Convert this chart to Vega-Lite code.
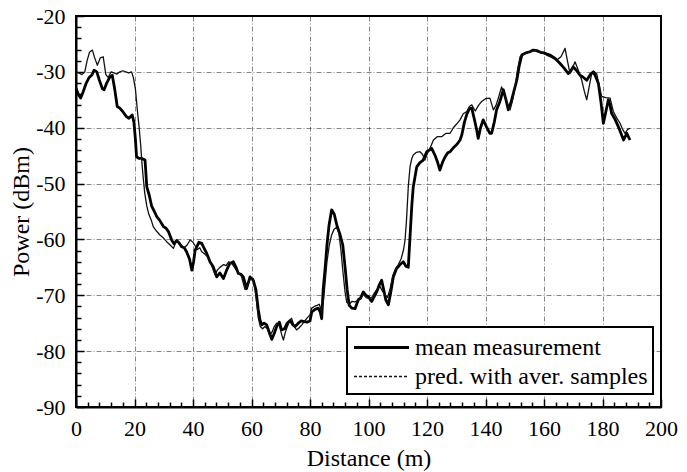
{
  "$schema": "https://vega.github.io/schema/vega-lite/v6.json",
  "width": 585,
  "height": 391,
  "autosize": "none",
  "padding": {"left": 76, "top": 16, "right": 26, "bottom": 65},
  "background": "white",
  "config": {
    "view": {"stroke": "black", "strokeWidth": 2},
    "font": "Liberation Serif",
    "axis": {
      "labelFont": "Liberation Serif",
      "labelFontSize": 22,
      "labelColor": "black",
      "labelOverlap": false,
      "labelFlush": false,
      "titleFont": "Liberation Serif",
      "titleFontSize": 24,
      "titleFontWeight": "normal",
      "titleColor": "black",
      "domainColor": "black",
      "domainWidth": 2,
      "tickColor": "black",
      "tickWidth": 1.5,
      "grid": true,
      "gridColor": "black",
      "gridWidth": 0.8,
      "gridDash": [5, 2, 1, 2]
    }
  },
  "data": {"values": [
    {"d":0,"p":-33,"s":"mean measurement"},
    {"d":0.8,"p":-34,"s":"mean measurement"},
    {"d":1.6,"p":-34.7,"s":"mean measurement"},
    {"d":2.5,"p":-33.5,"s":"mean measurement"},
    {"d":3.5,"p":-32,"s":"mean measurement"},
    {"d":4.5,"p":-31,"s":"mean measurement"},
    {"d":5.5,"p":-30.5,"s":"mean measurement"},
    {"d":6.2,"p":-29.7,"s":"mean measurement"},
    {"d":7.1,"p":-30,"s":"mean measurement"},
    {"d":8,"p":-31.5,"s":"mean measurement"},
    {"d":9,"p":-33,"s":"mean measurement"},
    {"d":9.6,"p":-33.2,"s":"mean measurement"},
    {"d":10.5,"p":-32,"s":"mean measurement"},
    {"d":11.5,"p":-31,"s":"mean measurement"},
    {"d":12.4,"p":-30.6,"s":"mean measurement"},
    {"d":13.2,"p":-33,"s":"mean measurement"},
    {"d":14.1,"p":-36.2,"s":"mean measurement"},
    {"d":15,"p":-36.5,"s":"mean measurement"},
    {"d":16.4,"p":-37.4,"s":"mean measurement"},
    {"d":17.2,"p":-38,"s":"mean measurement"},
    {"d":18.1,"p":-38.3,"s":"mean measurement"},
    {"d":19.2,"p":-37.7,"s":"mean measurement"},
    {"d":19.8,"p":-39,"s":"mean measurement"},
    {"d":20.3,"p":-42,"s":"mean measurement"},
    {"d":20.7,"p":-45.2,"s":"mean measurement"},
    {"d":21.5,"p":-45.5,"s":"mean measurement"},
    {"d":22.5,"p":-45.5,"s":"mean measurement"},
    {"d":23.6,"p":-45.8,"s":"mean measurement"},
    {"d":24.2,"p":-50.6,"s":"mean measurement"},
    {"d":25,"p":-52,"s":"mean measurement"},
    {"d":25.9,"p":-54.1,"s":"mean measurement"},
    {"d":26.8,"p":-55,"s":"mean measurement"},
    {"d":27.6,"p":-55.9,"s":"mean measurement"},
    {"d":28.5,"p":-56.5,"s":"mean measurement"},
    {"d":29.9,"p":-57.7,"s":"mean measurement"},
    {"d":30.8,"p":-58,"s":"mean measurement"},
    {"d":31.6,"p":-58.6,"s":"mean measurement"},
    {"d":32.7,"p":-60.1,"s":"mean measurement"},
    {"d":33.5,"p":-60.8,"s":"mean measurement"},
    {"d":34.4,"p":-60.2,"s":"mean measurement"},
    {"d":35.2,"p":-60.6,"s":"mean measurement"},
    {"d":36.1,"p":-61.3,"s":"mean measurement"},
    {"d":37,"p":-61.5,"s":"mean measurement"},
    {"d":37.8,"p":-62.2,"s":"mean measurement"},
    {"d":38.8,"p":-63.5,"s":"mean measurement"},
    {"d":39.6,"p":-65.5,"s":"mean measurement"},
    {"d":40.2,"p":-64,"s":"mean measurement"},
    {"d":40.7,"p":-62,"s":"mean measurement"},
    {"d":42,"p":-60.5,"s":"mean measurement"},
    {"d":43,"p":-60.7,"s":"mean measurement"},
    {"d":44,"p":-61.8,"s":"mean measurement"},
    {"d":44.7,"p":-62.5,"s":"mean measurement"},
    {"d":45.8,"p":-64,"s":"mean measurement"},
    {"d":46.9,"p":-64.9,"s":"mean measurement"},
    {"d":48.1,"p":-66.7,"s":"mean measurement"},
    {"d":49.2,"p":-66,"s":"mean measurement"},
    {"d":50.4,"p":-67,"s":"mean measurement"},
    {"d":51.5,"p":-65.5,"s":"mean measurement"},
    {"d":52.6,"p":-64.3,"s":"mean measurement"},
    {"d":53.8,"p":-64,"s":"mean measurement"},
    {"d":54.7,"p":-65,"s":"mean measurement"},
    {"d":55.5,"p":-66.1,"s":"mean measurement"},
    {"d":56.3,"p":-66.2,"s":"mean measurement"},
    {"d":57.2,"p":-66.7,"s":"mean measurement"},
    {"d":58.3,"p":-68.8,"s":"mean measurement"},
    {"d":59.5,"p":-66.7,"s":"mean measurement"},
    {"d":60.6,"p":-67.3,"s":"mean measurement"},
    {"d":61.5,"p":-69,"s":"mean measurement"},
    {"d":62.3,"p":-72.5,"s":"mean measurement"},
    {"d":62.9,"p":-74.4,"s":"mean measurement"},
    {"d":63.5,"p":-75.3,"s":"mean measurement"},
    {"d":64.3,"p":-75,"s":"mean measurement"},
    {"d":65.2,"p":-75.3,"s":"mean measurement"},
    {"d":66,"p":-76.5,"s":"mean measurement"},
    {"d":66.9,"p":-77.9,"s":"mean measurement"},
    {"d":67.8,"p":-76.8,"s":"mean measurement"},
    {"d":68.6,"p":-75.6,"s":"mean measurement"},
    {"d":69.5,"p":-74.8,"s":"mean measurement"},
    {"d":70.3,"p":-76.2,"s":"mean measurement"},
    {"d":71.3,"p":-76,"s":"mean measurement"},
    {"d":72.2,"p":-75,"s":"mean measurement"},
    {"d":73.2,"p":-74.5,"s":"mean measurement"},
    {"d":74.2,"p":-75.3,"s":"mean measurement"},
    {"d":74.9,"p":-75.6,"s":"mean measurement"},
    {"d":76,"p":-75,"s":"mean measurement"},
    {"d":77,"p":-74.6,"s":"mean measurement"},
    {"d":78,"p":-74.7,"s":"mean measurement"},
    {"d":79,"p":-74.8,"s":"mean measurement"},
    {"d":80,"p":-74.6,"s":"mean measurement"},
    {"d":80.6,"p":-73,"s":"mean measurement"},
    {"d":81.5,"p":-72.6,"s":"mean measurement"},
    {"d":82.8,"p":-72.3,"s":"mean measurement"},
    {"d":83.5,"p":-73,"s":"mean measurement"},
    {"d":84,"p":-74.2,"s":"mean measurement"},
    {"d":84.5,"p":-69,"s":"mean measurement"},
    {"d":85.2,"p":-65,"s":"mean measurement"},
    {"d":85.8,"p":-61,"s":"mean measurement"},
    {"d":86.5,"p":-57.5,"s":"mean measurement"},
    {"d":87.4,"p":-54.7,"s":"mean measurement"},
    {"d":88.3,"p":-55.5,"s":"mean measurement"},
    {"d":89.2,"p":-57.5,"s":"mean measurement"},
    {"d":90.2,"p":-59,"s":"mean measurement"},
    {"d":91.2,"p":-61,"s":"mean measurement"},
    {"d":92,"p":-65,"s":"mean measurement"},
    {"d":92.7,"p":-69,"s":"mean measurement"},
    {"d":93.4,"p":-71.8,"s":"mean measurement"},
    {"d":94.3,"p":-72.3,"s":"mean measurement"},
    {"d":95.4,"p":-72.4,"s":"mean measurement"},
    {"d":96.5,"p":-70.8,"s":"mean measurement"},
    {"d":97.3,"p":-70.5,"s":"mean measurement"},
    {"d":98.2,"p":-69.4,"s":"mean measurement"},
    {"d":99.1,"p":-70,"s":"mean measurement"},
    {"d":99.9,"p":-70.2,"s":"mean measurement"},
    {"d":101.1,"p":-71.1,"s":"mean measurement"},
    {"d":102,"p":-70.2,"s":"mean measurement"},
    {"d":102.8,"p":-69.4,"s":"mean measurement"},
    {"d":103.8,"p":-68,"s":"mean measurement"},
    {"d":104.5,"p":-67.3,"s":"mean measurement"},
    {"d":105.2,"p":-69,"s":"mean measurement"},
    {"d":105.9,"p":-70.8,"s":"mean measurement"},
    {"d":106.8,"p":-71.7,"s":"mean measurement"},
    {"d":107.6,"p":-69.5,"s":"mean measurement"},
    {"d":108.5,"p":-66.7,"s":"mean measurement"},
    {"d":109.6,"p":-65.2,"s":"mean measurement"},
    {"d":110.8,"p":-64.5,"s":"mean measurement"},
    {"d":111.9,"p":-64,"s":"mean measurement"},
    {"d":112.8,"p":-64.8,"s":"mean measurement"},
    {"d":113.6,"p":-65,"s":"mean measurement"},
    {"d":114.2,"p":-59.5,"s":"mean measurement"},
    {"d":114.8,"p":-54,"s":"mean measurement"},
    {"d":115.3,"p":-50.6,"s":"mean measurement"},
    {"d":116.5,"p":-47,"s":"mean measurement"},
    {"d":117.5,"p":-46.3,"s":"mean measurement"},
    {"d":118.7,"p":-45.8,"s":"mean measurement"},
    {"d":119.9,"p":-44.3,"s":"mean measurement"},
    {"d":120.8,"p":-44,"s":"mean measurement"},
    {"d":121.6,"p":-43.7,"s":"mean measurement"},
    {"d":122.7,"p":-44.9,"s":"mean measurement"},
    {"d":123.5,"p":-46,"s":"mean measurement"},
    {"d":124.4,"p":-47.6,"s":"mean measurement"},
    {"d":125.3,"p":-46.2,"s":"mean measurement"},
    {"d":126.2,"p":-45.2,"s":"mean measurement"},
    {"d":127.1,"p":-44.5,"s":"mean measurement"},
    {"d":127.9,"p":-44.3,"s":"mean measurement"},
    {"d":129,"p":-43.6,"s":"mean measurement"},
    {"d":130.2,"p":-43,"s":"mean measurement"},
    {"d":131.3,"p":-42.2,"s":"mean measurement"},
    {"d":131.9,"p":-41.3,"s":"mean measurement"},
    {"d":132.8,"p":-39,"s":"mean measurement"},
    {"d":133.6,"p":-37.6,"s":"mean measurement"},
    {"d":134.5,"p":-36.6,"s":"mean measurement"},
    {"d":135.3,"p":-36.5,"s":"mean measurement"},
    {"d":136.2,"p":-38.5,"s":"mean measurement"},
    {"d":137,"p":-40.4,"s":"mean measurement"},
    {"d":137.5,"p":-41.9,"s":"mean measurement"},
    {"d":138.3,"p":-40,"s":"mean measurement"},
    {"d":139.2,"p":-38.6,"s":"mean measurement"},
    {"d":140.3,"p":-39.8,"s":"mean measurement"},
    {"d":141.5,"p":-41,"s":"mean measurement"},
    {"d":142.1,"p":-41,"s":"mean measurement"},
    {"d":143,"p":-39,"s":"mean measurement"},
    {"d":143.8,"p":-36.8,"s":"mean measurement"},
    {"d":144.8,"p":-35.5,"s":"mean measurement"},
    {"d":146.1,"p":-33.2,"s":"mean measurement"},
    {"d":147,"p":-35,"s":"mean measurement"},
    {"d":147.8,"p":-36.8,"s":"mean measurement"},
    {"d":148.7,"p":-35.5,"s":"mean measurement"},
    {"d":149.7,"p":-33.5,"s":"mean measurement"},
    {"d":150.7,"p":-31.5,"s":"mean measurement"},
    {"d":151.5,"p":-29,"s":"mean measurement"},
    {"d":152.4,"p":-27,"s":"mean measurement"},
    {"d":153.8,"p":-26.6,"s":"mean measurement"},
    {"d":155.2,"p":-26.4,"s":"mean measurement"},
    {"d":156.3,"p":-26.1,"s":"mean measurement"},
    {"d":157.5,"p":-26.2,"s":"mean measurement"},
    {"d":158.8,"p":-26.5,"s":"mean measurement"},
    {"d":160,"p":-26.6,"s":"mean measurement"},
    {"d":161,"p":-26.8,"s":"mean measurement"},
    {"d":162.1,"p":-27,"s":"mean measurement"},
    {"d":163.8,"p":-27.6,"s":"mean measurement"},
    {"d":165.5,"p":-28.5,"s":"mean measurement"},
    {"d":166.8,"p":-29.3,"s":"mean measurement"},
    {"d":168.3,"p":-30.3,"s":"mean measurement"},
    {"d":169.2,"p":-29.8,"s":"mean measurement"},
    {"d":170,"p":-29.1,"s":"mean measurement"},
    {"d":171.2,"p":-29.8,"s":"mean measurement"},
    {"d":172.3,"p":-30.6,"s":"mean measurement"},
    {"d":173.5,"p":-31,"s":"mean measurement"},
    {"d":174.6,"p":-31.5,"s":"mean measurement"},
    {"d":175.8,"p":-30.5,"s":"mean measurement"},
    {"d":176.9,"p":-30,"s":"mean measurement"},
    {"d":177.8,"p":-31,"s":"mean measurement"},
    {"d":178.6,"p":-32.1,"s":"mean measurement"},
    {"d":179.5,"p":-35.5,"s":"mean measurement"},
    {"d":180.3,"p":-39.2,"s":"mean measurement"},
    {"d":181.2,"p":-37,"s":"mean measurement"},
    {"d":182,"p":-35,"s":"mean measurement"},
    {"d":182.6,"p":-36,"s":"mean measurement"},
    {"d":183.1,"p":-37.4,"s":"mean measurement"},
    {"d":184.3,"p":-38.5,"s":"mean measurement"},
    {"d":185.4,"p":-39.8,"s":"mean measurement"},
    {"d":186.3,"p":-41,"s":"mean measurement"},
    {"d":187.2,"p":-42.2,"s":"mean measurement"},
    {"d":188.3,"p":-41,"s":"mean measurement"},
    {"d":189.4,"p":-42.2,"s":"mean measurement"},
    {"d":0,"p":-30,"s":"pred. with aver. samples"},
    {"d":1,"p":-30.2,"s":"pred. with aver. samples"},
    {"d":2,"p":-30.5,"s":"pred. with aver. samples"},
    {"d":3,"p":-30,"s":"pred. with aver. samples"},
    {"d":3.8,"p":-28,"s":"pred. with aver. samples"},
    {"d":4.6,"p":-26.5,"s":"pred. with aver. samples"},
    {"d":5.6,"p":-26.1,"s":"pred. with aver. samples"},
    {"d":6.4,"p":-27.5,"s":"pred. with aver. samples"},
    {"d":7.3,"p":-28.8,"s":"pred. with aver. samples"},
    {"d":8.3,"p":-27.5,"s":"pred. with aver. samples"},
    {"d":9.3,"p":-27.3,"s":"pred. with aver. samples"},
    {"d":10.2,"p":-30.5,"s":"pred. with aver. samples"},
    {"d":11,"p":-31,"s":"pred. with aver. samples"},
    {"d":12,"p":-30,"s":"pred. with aver. samples"},
    {"d":13,"p":-30.2,"s":"pred. with aver. samples"},
    {"d":14,"p":-30.4,"s":"pred. with aver. samples"},
    {"d":15,"p":-30,"s":"pred. with aver. samples"},
    {"d":16,"p":-29.8,"s":"pred. with aver. samples"},
    {"d":17,"p":-30,"s":"pred. with aver. samples"},
    {"d":18,"p":-30.2,"s":"pred. with aver. samples"},
    {"d":19,"p":-30,"s":"pred. with aver. samples"},
    {"d":19.6,"p":-31,"s":"pred. with aver. samples"},
    {"d":20.3,"p":-33,"s":"pred. with aver. samples"},
    {"d":21,"p":-37,"s":"pred. with aver. samples"},
    {"d":21.6,"p":-40,"s":"pred. with aver. samples"},
    {"d":22.1,"p":-43,"s":"pred. with aver. samples"},
    {"d":22.5,"p":-46,"s":"pred. with aver. samples"},
    {"d":22.9,"p":-48.5,"s":"pred. with aver. samples"},
    {"d":23.5,"p":-51.7,"s":"pred. with aver. samples"},
    {"d":24.2,"p":-54,"s":"pred. with aver. samples"},
    {"d":24.9,"p":-55.5,"s":"pred. with aver. samples"},
    {"d":25.7,"p":-56.5,"s":"pred. with aver. samples"},
    {"d":26.4,"p":-57.7,"s":"pred. with aver. samples"},
    {"d":27.5,"p":-58.5,"s":"pred. with aver. samples"},
    {"d":28.7,"p":-59.2,"s":"pred. with aver. samples"},
    {"d":30,"p":-59.8,"s":"pred. with aver. samples"},
    {"d":31,"p":-60.4,"s":"pred. with aver. samples"},
    {"d":32.2,"p":-61,"s":"pred. with aver. samples"},
    {"d":33.3,"p":-61.6,"s":"pred. with aver. samples"},
    {"d":34.4,"p":-60.1,"s":"pred. with aver. samples"},
    {"d":35.2,"p":-60.5,"s":"pred. with aver. samples"},
    {"d":36,"p":-61,"s":"pred. with aver. samples"},
    {"d":37,"p":-61.5,"s":"pred. with aver. samples"},
    {"d":38,"p":-61,"s":"pred. with aver. samples"},
    {"d":39,"p":-60.1,"s":"pred. with aver. samples"},
    {"d":40,"p":-60.5,"s":"pred. with aver. samples"},
    {"d":41.5,"p":-61.8,"s":"pred. with aver. samples"},
    {"d":42.3,"p":-61.5,"s":"pred. with aver. samples"},
    {"d":43,"p":-62.2,"s":"pred. with aver. samples"},
    {"d":44,"p":-62.6,"s":"pred. with aver. samples"},
    {"d":44.8,"p":-63,"s":"pred. with aver. samples"},
    {"d":45.8,"p":-63.7,"s":"pred. with aver. samples"},
    {"d":46.6,"p":-65,"s":"pred. with aver. samples"},
    {"d":47.5,"p":-66.3,"s":"pred. with aver. samples"},
    {"d":48.3,"p":-65.5,"s":"pred. with aver. samples"},
    {"d":49.2,"p":-65,"s":"pred. with aver. samples"},
    {"d":50.5,"p":-64.5,"s":"pred. with aver. samples"},
    {"d":51.3,"p":-64.7,"s":"pred. with aver. samples"},
    {"d":52.2,"p":-64,"s":"pred. with aver. samples"},
    {"d":53.2,"p":-64.3,"s":"pred. with aver. samples"},
    {"d":54.2,"p":-65,"s":"pred. with aver. samples"},
    {"d":55.2,"p":-65.8,"s":"pred. with aver. samples"},
    {"d":56.5,"p":-66.5,"s":"pred. with aver. samples"},
    {"d":57.8,"p":-69,"s":"pred. with aver. samples"},
    {"d":58.5,"p":-68.5,"s":"pred. with aver. samples"},
    {"d":59.3,"p":-67.3,"s":"pred. with aver. samples"},
    {"d":60.6,"p":-67,"s":"pred. with aver. samples"},
    {"d":61.5,"p":-70,"s":"pred. with aver. samples"},
    {"d":62.3,"p":-74,"s":"pred. with aver. samples"},
    {"d":63,"p":-75.6,"s":"pred. with aver. samples"},
    {"d":63.8,"p":-76,"s":"pred. with aver. samples"},
    {"d":64.6,"p":-75.6,"s":"pred. with aver. samples"},
    {"d":65.4,"p":-76,"s":"pred. with aver. samples"},
    {"d":66.2,"p":-77.2,"s":"pred. with aver. samples"},
    {"d":67,"p":-76.6,"s":"pred. with aver. samples"},
    {"d":67.8,"p":-75.6,"s":"pred. with aver. samples"},
    {"d":68.6,"p":-75,"s":"pred. with aver. samples"},
    {"d":69.5,"p":-75.4,"s":"pred. with aver. samples"},
    {"d":70.3,"p":-77,"s":"pred. with aver. samples"},
    {"d":70.9,"p":-78,"s":"pred. with aver. samples"},
    {"d":71.6,"p":-76.6,"s":"pred. with aver. samples"},
    {"d":72.4,"p":-75.4,"s":"pred. with aver. samples"},
    {"d":73.2,"p":-74.4,"s":"pred. with aver. samples"},
    {"d":73.7,"p":-74.1,"s":"pred. with aver. samples"},
    {"d":74.5,"p":-75.5,"s":"pred. with aver. samples"},
    {"d":75.4,"p":-76.2,"s":"pred. with aver. samples"},
    {"d":76.3,"p":-75.8,"s":"pred. with aver. samples"},
    {"d":77.2,"p":-75.3,"s":"pred. with aver. samples"},
    {"d":78.2,"p":-74.6,"s":"pred. with aver. samples"},
    {"d":79.1,"p":-74,"s":"pred. with aver. samples"},
    {"d":80,"p":-73.5,"s":"pred. with aver. samples"},
    {"d":80.6,"p":-72.3,"s":"pred. with aver. samples"},
    {"d":81.5,"p":-72,"s":"pred. with aver. samples"},
    {"d":82.4,"p":-71.8,"s":"pred. with aver. samples"},
    {"d":83.2,"p":-71.6,"s":"pred. with aver. samples"},
    {"d":84,"p":-73,"s":"pred. with aver. samples"},
    {"d":84.6,"p":-71,"s":"pred. with aver. samples"},
    {"d":85.2,"p":-67.5,"s":"pred. with aver. samples"},
    {"d":85.8,"p":-64,"s":"pred. with aver. samples"},
    {"d":86.6,"p":-61,"s":"pred. with aver. samples"},
    {"d":87.4,"p":-59.2,"s":"pred. with aver. samples"},
    {"d":88.2,"p":-58.2,"s":"pred. with aver. samples"},
    {"d":89.1,"p":-57.8,"s":"pred. with aver. samples"},
    {"d":89.9,"p":-59,"s":"pred. with aver. samples"},
    {"d":90.6,"p":-62,"s":"pred. with aver. samples"},
    {"d":91.3,"p":-66,"s":"pred. with aver. samples"},
    {"d":92,"p":-69.5,"s":"pred. with aver. samples"},
    {"d":92.6,"p":-71.3,"s":"pred. with aver. samples"},
    {"d":93.5,"p":-71.6,"s":"pred. with aver. samples"},
    {"d":94.3,"p":-71.1,"s":"pred. with aver. samples"},
    {"d":95.2,"p":-71.2,"s":"pred. with aver. samples"},
    {"d":96.2,"p":-71,"s":"pred. with aver. samples"},
    {"d":97.2,"p":-70.6,"s":"pred. with aver. samples"},
    {"d":98.2,"p":-69.8,"s":"pred. with aver. samples"},
    {"d":99.2,"p":-70.4,"s":"pred. with aver. samples"},
    {"d":100.2,"p":-70.6,"s":"pred. with aver. samples"},
    {"d":101.1,"p":-70.4,"s":"pred. with aver. samples"},
    {"d":102,"p":-69.6,"s":"pred. with aver. samples"},
    {"d":102.8,"p":-69,"s":"pred. with aver. samples"},
    {"d":103.9,"p":-68.4,"s":"pred. with aver. samples"},
    {"d":104.8,"p":-69.3,"s":"pred. with aver. samples"},
    {"d":105.8,"p":-70,"s":"pred. with aver. samples"},
    {"d":106.5,"p":-70.4,"s":"pred. with aver. samples"},
    {"d":107.4,"p":-68.8,"s":"pred. with aver. samples"},
    {"d":108.3,"p":-66.5,"s":"pred. with aver. samples"},
    {"d":109.2,"p":-65.3,"s":"pred. with aver. samples"},
    {"d":110.2,"p":-64.5,"s":"pred. with aver. samples"},
    {"d":111.2,"p":-63.4,"s":"pred. with aver. samples"},
    {"d":112,"p":-61.8,"s":"pred. with aver. samples"},
    {"d":112.5,"p":-60.1,"s":"pred. with aver. samples"},
    {"d":113,"p":-56.5,"s":"pred. with aver. samples"},
    {"d":113.6,"p":-50.6,"s":"pred. with aver. samples"},
    {"d":114.2,"p":-47,"s":"pred. with aver. samples"},
    {"d":114.8,"p":-45.5,"s":"pred. with aver. samples"},
    {"d":115.3,"p":-44.9,"s":"pred. with aver. samples"},
    {"d":116.4,"p":-44.4,"s":"pred. with aver. samples"},
    {"d":117.6,"p":-44.3,"s":"pred. with aver. samples"},
    {"d":118.5,"p":-44.8,"s":"pred. with aver. samples"},
    {"d":119.3,"p":-45.8,"s":"pred. with aver. samples"},
    {"d":120.2,"p":-44.5,"s":"pred. with aver. samples"},
    {"d":121,"p":-43.7,"s":"pred. with aver. samples"},
    {"d":122.2,"p":-42.2,"s":"pred. with aver. samples"},
    {"d":123.5,"p":-41.6,"s":"pred. with aver. samples"},
    {"d":125,"p":-41.6,"s":"pred. with aver. samples"},
    {"d":126.5,"p":-41,"s":"pred. with aver. samples"},
    {"d":127.9,"p":-41,"s":"pred. with aver. samples"},
    {"d":129,"p":-40,"s":"pred. with aver. samples"},
    {"d":130.2,"p":-39.3,"s":"pred. with aver. samples"},
    {"d":131.3,"p":-38.6,"s":"pred. with aver. samples"},
    {"d":132.4,"p":-37.5,"s":"pred. with aver. samples"},
    {"d":133.6,"p":-37.1,"s":"pred. with aver. samples"},
    {"d":134.5,"p":-36.2,"s":"pred. with aver. samples"},
    {"d":135.3,"p":-35.9,"s":"pred. with aver. samples"},
    {"d":136.5,"p":-37,"s":"pred. with aver. samples"},
    {"d":137.6,"p":-36,"s":"pred. with aver. samples"},
    {"d":138.7,"p":-35.3,"s":"pred. with aver. samples"},
    {"d":140,"p":-34.8,"s":"pred. with aver. samples"},
    {"d":141.5,"p":-34.7,"s":"pred. with aver. samples"},
    {"d":142.7,"p":-36.8,"s":"pred. with aver. samples"},
    {"d":143.6,"p":-36,"s":"pred. with aver. samples"},
    {"d":144.5,"p":-34.5,"s":"pred. with aver. samples"},
    {"d":145.5,"p":-32.7,"s":"pred. with aver. samples"},
    {"d":146.4,"p":-34,"s":"pred. with aver. samples"},
    {"d":147.4,"p":-35.5,"s":"pred. with aver. samples"},
    {"d":148.4,"p":-36.8,"s":"pred. with aver. samples"},
    {"d":149.3,"p":-35,"s":"pred. with aver. samples"},
    {"d":150.1,"p":-32.7,"s":"pred. with aver. samples"},
    {"d":151,"p":-29.5,"s":"pred. with aver. samples"},
    {"d":151.8,"p":-27.3,"s":"pred. with aver. samples"},
    {"d":153.5,"p":-26.7,"s":"pred. with aver. samples"},
    {"d":155.5,"p":-26.3,"s":"pred. with aver. samples"},
    {"d":157.5,"p":-26.1,"s":"pred. with aver. samples"},
    {"d":159.2,"p":-26.5,"s":"pred. with aver. samples"},
    {"d":160.9,"p":-27,"s":"pred. with aver. samples"},
    {"d":162.6,"p":-27.4,"s":"pred. with aver. samples"},
    {"d":164.3,"p":-27.9,"s":"pred. with aver. samples"},
    {"d":165.8,"p":-27.3,"s":"pred. with aver. samples"},
    {"d":167.2,"p":-25.8,"s":"pred. with aver. samples"},
    {"d":168,"p":-28,"s":"pred. with aver. samples"},
    {"d":168.9,"p":-30.3,"s":"pred. with aver. samples"},
    {"d":169.8,"p":-29.2,"s":"pred. with aver. samples"},
    {"d":170.6,"p":-28.2,"s":"pred. with aver. samples"},
    {"d":171.8,"p":-29.8,"s":"pred. with aver. samples"},
    {"d":172.9,"p":-31.5,"s":"pred. with aver. samples"},
    {"d":173.8,"p":-33.5,"s":"pred. with aver. samples"},
    {"d":174.6,"p":-35,"s":"pred. with aver. samples"},
    {"d":175.5,"p":-32.5,"s":"pred. with aver. samples"},
    {"d":176.3,"p":-30.3,"s":"pred. with aver. samples"},
    {"d":177.2,"p":-30,"s":"pred. with aver. samples"},
    {"d":178,"p":-30.3,"s":"pred. with aver. samples"},
    {"d":178.9,"p":-32.5,"s":"pred. with aver. samples"},
    {"d":179.7,"p":-34.4,"s":"pred. with aver. samples"},
    {"d":181.1,"p":-34.6,"s":"pred. with aver. samples"},
    {"d":182.6,"p":-34.7,"s":"pred. with aver. samples"},
    {"d":183.7,"p":-37.1,"s":"pred. with aver. samples"},
    {"d":184.8,"p":-38.2,"s":"pred. with aver. samples"},
    {"d":186,"p":-39.2,"s":"pred. with aver. samples"},
    {"d":186.8,"p":-40.2,"s":"pred. with aver. samples"},
    {"d":187.7,"p":-41,"s":"pred. with aver. samples"},
    {"d":188.6,"p":-40.3,"s":"pred. with aver. samples"},
    {"d":189.4,"p":-40.1,"s":"pred. with aver. samples"}
  ]},
  "mark": {"type": "line", "interpolate": "linear", "strokeJoin": "round"},
  "encoding": {
    "x": {
      "field": "d", "type": "quantitative",
      "scale": {"domain": [0, 200], "nice": false, "zero": false},
      "axis": {
        "title": "Distance (m)",
        "values": [0,4,8,12,16,20,24,28,32,36,40,44,48,52,56,60,64,68,72,76,80,84,88,92,96,100,104,108,112,116,120,124,128,132,136,140,144,148,152,156,160,164,168,172,176,180,184,188,192,196,200],
        "labelExpr": "datum.value % 20 === 0 ? '' + datum.value : ''",
        "tickSize": {"condition": {"test": "datum.value % 20 === 0", "value": -8}, "value": -5},
        "gridOpacity": {"condition": {"test": "datum.value % 20 === 0", "value": 0.6}, "value": 0},
        "labelPadding": 19,
        "titlePadding": 4
      }
    },
    "y": {
      "field": "p", "type": "quantitative",
      "scale": {"domain": [-90, -20], "nice": false, "zero": false},
      "axis": {
        "title": "Power (dBm)",
        "values": [-90,-88,-86,-84,-82,-80,-78,-76,-74,-72,-70,-68,-66,-64,-62,-60,-58,-56,-54,-52,-50,-48,-46,-44,-42,-40,-38,-36,-34,-32,-30,-28,-26,-24,-22,-20],
        "labelExpr": "datum.value % 10 === 0 ? '' + datum.value : ''",
        "tickSize": {"condition": {"test": "datum.value % 10 === 0", "value": -8}, "value": -5},
        "gridOpacity": {"condition": {"test": "datum.value % 10 === 0", "value": 0.6}, "value": 0},
        "labelPadding": 19,
        "titlePadding": 2
      }
    },
    "color": {
      "field": "s", "type": "nominal",
      "scale": {"domain": ["mean measurement", "pred. with aver. samples"], "range": ["#000000", "#111111"]},
      "legend": {
        "title": null,
        "orient": "none",
        "legendX": 271,
        "legendY": 311,
        "padding": 5,
        "symbolType": "M-2,0H2",
        "symbolSize": 756,
        "symbolOffset": 14,
        "labelOffset": 18,
        "rowPadding": 2,
        "labelFont": "Liberation Serif",
        "labelFontSize": 24,
        "labelColor": "black",
        "labelLimit": 400,
        "strokeColor": "black",
        "fillColor": "white",
        "encode": {
          "legend": {"update": {"strokeWidth": {"value": 2}}},
          "symbols": {"update": {"strokeDash": {"signal": "datum.value === 'pred. with aver. samples' ? [3, 2] : [1, 0]"}}}
        }
      }
    },
    "strokeWidth": {
      "field": "s", "type": "nominal",
      "scale": {"domain": ["mean measurement", "pred. with aver. samples"], "range": [2.8, 1.3]},
      "legend": {"title": null}
    }
  }
}
